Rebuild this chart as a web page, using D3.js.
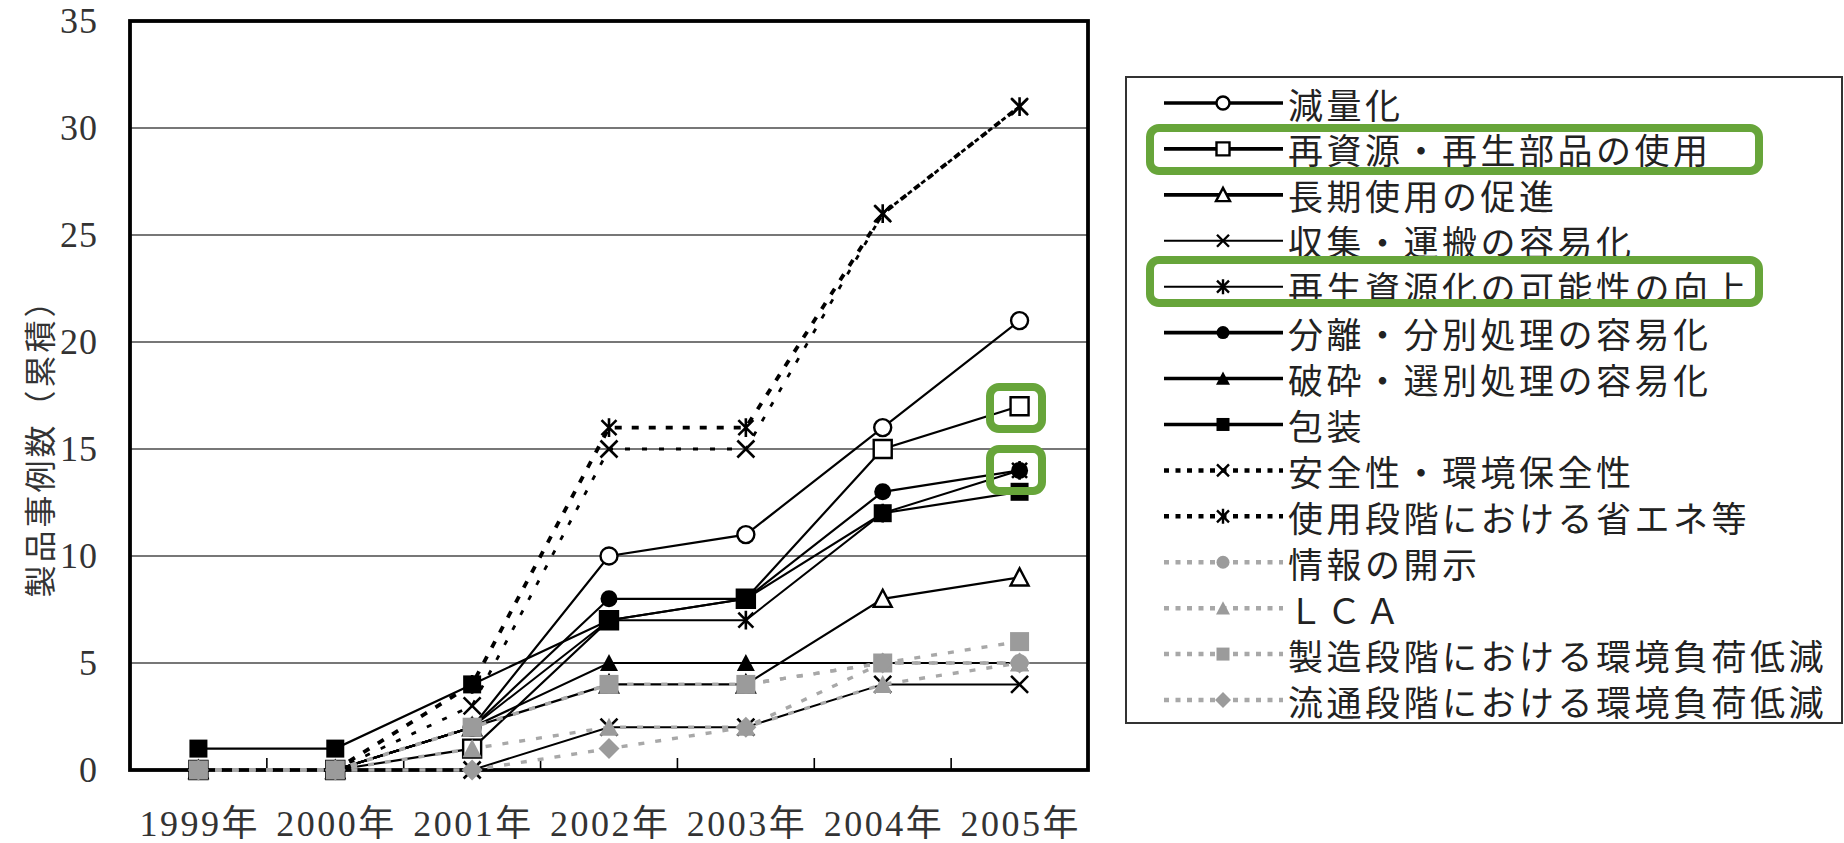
<!DOCTYPE html>
<html>
<head>
<meta charset="utf-8">
<script src="https://cdn.jsdelivr.net/npm/d3@7"></script>
<style>
  html, body { margin: 0; padding: 0; background: #fff; }
  svg { display: block; }
</style>
</head>
<body>
<svg id="chart" width="1844" height="843"></svg>
<script>
// ---- data ----
const years = ['1999年', '2000年', '2001年', '2002年', '2003年', '2004年', '2005年'];
const yTicks = [0, 5, 10, 15, 20, 25, 30, 35];
const yTitle = '製品事例数（累積）';

const seriesNames = [
  '減量化',
  '再資源・再生部品の使用',
  '長期使用の促進',
  '収集・運搬の容易化',
  '再生資源化の可能性の向上',
  '分離・分別処理の容易化',
  '破砕・選別処理の容易化',
  '包装',
  '安全性・環境保全性',
  '使用段階における省エネ等',
  '情報の開示',
  'ＬＣＡ',
  '製造段階における環境負荷低減',
  '流通段階における環境負荷低減'
];

const genryo      = [0, 0, 2, 10, 11, 16, 21];
const saishigen   = [0, 0, 1, 7, 8, 15, 17];
const chokiShiyo  = [0, 0, 2, 4, 4, 8, 9];
const shushu      = [0, 0, 0, 2, 2, 4, 4];
const saiseiKa    = [0, 0, 2, 7, 7, 12, 14];
const bunri       = [0, 0, 2, 8, 8, 13, 14];
const hasai       = [0, 0, 2, 5, 5, 5, 5];
const hoso        = [1, 1, 4, 7, 8, 12, 13];
const anzen       = [0, 0, 3, 15, 15, 26, 31];
const shoene      = [0, 0, 4, 16, 16, 26, 31];
const johoKaiji   = [0, 0, 2, 4, 4, 5, 5];
const lca         = [0, 0, 1, 2, 2, 4, 5];
const seizo       = [0, 0, 2, 4, 4, 5, 6];
const ryutsu      = [0, 0, 0, 1, 2, 5, 5];

const seriesValues = [genryo, saishigen, chokiShiyo, shushu, saiseiKa, bunri, hasai,
                      hoso, anzen, shoene, johoKaiji, lca, seizo, ryutsu];

// ---- appearance of each series (line + marker) ----
const GRAY = '#9b9b9b';
const GRAY_LINE = '#a8a8a8';
const seriesStyle = [
  { kind: 'solid', shape: 'circle',   fill: 'open' },
  { kind: 'solid', shape: 'square',   fill: 'open' },
  { kind: 'solid', shape: 'triangle', fill: 'open' },
  { kind: 'thin',  shape: 'x',        fill: 'line' },
  { kind: 'thin',  shape: 'star',     fill: 'line' },
  { kind: 'solid', shape: 'circle',   fill: 'black' },
  { kind: 'solid', shape: 'triangle', fill: 'black' },
  { kind: 'solid', shape: 'square',   fill: 'black' },
  { kind: 'dotThin', shape: 'x',      fill: 'line' },
  { kind: 'dotBold', shape: 'star',   fill: 'line' },
  { kind: 'gray',  shape: 'circle',   fill: 'gray' },
  { kind: 'gray',  shape: 'triangle', fill: 'gray' },
  { kind: 'gray',  shape: 'square',   fill: 'gray' },
  { kind: 'gray',  shape: 'diamond',  fill: 'gray' }
];

const lineLook = {
  solid:   { chart: { w: 2.2, dash: null,    c: '#000' }, legend: { w: 3.6, dash: null,    c: '#000' } },
  thin:    { chart: { w: 2.0, dash: null,    c: '#000' }, legend: { w: 2.0, dash: null,    c: '#000' } },
  dotThin: { chart: { w: 2.8, dash: '5,12',  c: '#000' }, legend: { w: 4.5, dash: '5,6.5', c: '#000' } },
  dotBold: { chart: { w: 3.8, dash: '7,10',  c: '#000' }, legend: { w: 4.5, dash: '5,6.5', c: '#000' } },
  gray:    { chart: { w: 3.4, dash: '6,11',  c: GRAY_LINE }, legend: { w: 4.5, dash: '5,6.5', c: GRAY_LINE } }
};

// marker outline path centred on 0,0 with overall size s
function markerPath(shape, s) {
  const h = s / 2;
  switch (shape) {
    case 'circle':
      return `M${-h},0A${h},${h} 0 1,0 ${h},0A${h},${h} 0 1,0 ${-h},0Z`;
    case 'square':
      return `M${-h},${-h}H${h}V${h}H${-h}Z`;
    case 'triangle':
      return `M0,${-h}L${h},${h * 0.9}L${-h},${h * 0.9}Z`;
    case 'diamond':
      return `M0,${-h}L${h},0L0,${h}L${-h},0Z`;
    case 'x':
      return `M${-h},${-h}L${h},${h}M${h},${-h}L${-h},${h}`;
    case 'star':
      return `M${-h},${-h}L${h},${h}M${h},${-h}L${-h},${h}M0,${-h * 1.25}V${h * 1.25}`;
  }
}

const chartMarkerSize = { circle: 17, square: 18, triangle: 18, diamond: 21, x: 17, star: 15 };
const grayMarkerSize  = { circle: 18, square: 19, triangle: 19, diamond: 21 };
const legendMarkerSize = { circle: 13, square: 13, triangle: 14, diamond: 16, x: 12, star: 12 };

function styleMarker(sel, st, where) {
  if (st.fill === 'open') {
    sel.attr('fill', '#fff').attr('stroke', '#000').attr('stroke-width', 2.4);
  } else if (st.fill === 'black') {
    sel.attr('fill', '#000').attr('stroke', 'none');
  } else if (st.fill === 'gray') {
    sel.attr('fill', GRAY).attr('stroke', 'none');
  } else {
    sel.attr('fill', 'none').attr('stroke', '#000')
       .attr('stroke-width', where === 'legend' ? 2.4 : 2.6);
  }
}

// ---- layout ----
const svg = d3.select('#chart');
const plot = { left: 130, right: 1088, top: 21, bottom: 770 };

svg.append('rect').attr('width', 1844).attr('height', 843).attr('fill', '#fff');

const x = d3.scaleBand().domain(years).range([plot.left, plot.right]).padding(0);
const y = d3.scaleLinear().domain([0, 35]).range([plot.bottom, plot.top]);
const cx = d => x(d) + x.bandwidth() / 2;

const numFont = '"Liberation Serif", "DejaVu Serif", "Noto Sans CJK JP", serif';
const jpFont = '"Noto Sans CJK JP", "Noto Sans", sans-serif';

// horizontal gridlines
svg.append('g')
  .selectAll('line')
  .data(yTicks.filter(t => t > 0 && t < 35))
  .join('line')
  .attr('x1', plot.left).attr('x2', plot.right)
  .attr('y1', d => y(d)).attr('y2', d => y(d))
  .attr('stroke', '#4a4a4a').attr('stroke-width', 1.6);

// inner category tick marks on the bottom axis
svg.append('g')
  .selectAll('line')
  .data(years.slice(1))
  .join('line')
  .attr('x1', d => x(d)).attr('x2', d => x(d))
  .attr('y1', plot.bottom).attr('y2', plot.bottom - 12)
  .attr('stroke', '#000').attr('stroke-width', 1.6);

// plot frame
svg.append('rect')
  .attr('x', plot.left).attr('y', plot.top)
  .attr('width', plot.right - plot.left).attr('height', plot.bottom - plot.top)
  .attr('fill', 'none').attr('stroke', '#000').attr('stroke-width', 3.8);

// y axis labels
const yAxis = svg.append('g')
  .attr('transform', `translate(${plot.left},0)`)
  .call(d3.axisLeft(y).tickValues(yTicks).tickSize(0).tickPadding(32).tickFormat(d3.format('d')));
yAxis.select('.domain').remove();
yAxis.selectAll('text')
  .attr('font-family', numFont).attr('font-size', 36).attr('letter-spacing', 1).attr('fill', '#333');

// x axis labels
const xAxis = svg.append('g')
  .attr('transform', `translate(0,${plot.bottom})`)
  .call(d3.axisBottom(x).tickSize(0).tickPadding(40));
xAxis.select('.domain').remove();
xAxis.selectAll('text')
  .attr('font-family', numFont).attr('font-size', 36).attr('letter-spacing', 2.5)
  .attr('dx', 1.25).attr('fill', '#333');

// y axis title
svg.append('text')
  .attr('transform', 'translate(38,440) rotate(-90)')
  .attr('text-anchor', 'middle').attr('dominant-baseline', 'central')
  .attr('font-family', jpFont).attr('font-size', 32).attr('letter-spacing', 3)
  .attr('fill', '#333')
  .text(yTitle);

// ---- series ----
const line = d3.line().x((v, i) => cx(years[i])).y(v => y(v));

seriesValues.forEach((vals, si) => {
  const st = seriesStyle[si];
  const lk = lineLook[st.kind].chart;
  const g = svg.append('g').attr('class', 'series');
  g.append('path')
    .attr('d', line(vals))
    .attr('fill', 'none')
    .attr('stroke', lk.c)
    .attr('stroke-width', lk.w)
    .attr('stroke-dasharray', lk.dash);
  const size = st.fill === 'gray' ? grayMarkerSize[st.shape] : chartMarkerSize[st.shape];
  g.selectAll('path.mk')
    .data(vals)
    .join('path')
    .attr('class', 'mk')
    .attr('transform', (v, i) => `translate(${cx(years[i])},${y(v)})`)
    .attr('d', markerPath(st.shape, size))
    .call(sel => styleMarker(sel, st, 'chart'));
});

// ---- legend ----
const legend = { left: 1126, top: 77, right: 1842, bottom: 723 };
svg.append('rect')
  .attr('x', legend.left).attr('y', legend.top)
  .attr('width', legend.right - legend.left).attr('height', legend.bottom - legend.top)
  .attr('fill', '#fff').attr('stroke', '#333').attr('stroke-width', 2);

const rowY = d3.scalePoint().domain(seriesNames).range([103, 700]);
const lg = svg.append('g');
seriesNames.forEach((name, si) => {
  const st = seriesStyle[si];
  const lk = lineLook[st.kind].legend;
  const ry = rowY(name);
  lg.append('line')
    .attr('x1', 1164).attr('x2', 1283).attr('y1', ry).attr('y2', ry)
    .attr('stroke', lk.c).attr('stroke-width', lk.w).attr('stroke-dasharray', lk.dash);
  lg.append('path')
    .attr('transform', `translate(1223,${ry})`)
    .attr('d', markerPath(st.shape, legendMarkerSize[st.shape]))
    .call(sel => styleMarker(sel, st, 'legend'));
  lg.append('text')
    .attr('x', 1288).attr('y', ry)
    .attr('dominant-baseline', 'central')
    .attr('font-family', jpFont).attr('font-size', 35).attr('letter-spacing', 3.5)
    .attr('fill', '#222')
    .text(name);
});

// ---- green emphasis frames ----
const emphasis = [
  { x: 1146, y: 124, w: 617, h: 51 },
  { x: 1146, y: 256, w: 617, h: 51 },
  { x: 986,  y: 383, w: 60,  h: 50 },
  { x: 986,  y: 445, w: 60,  h: 50 }
];
svg.append('g')
  .selectAll('rect')
  .data(emphasis)
  .join('rect')
  .attr('x', d => d.x + 4).attr('y', d => d.y + 4)
  .attr('width', d => d.w - 8).attr('height', d => d.h - 8)
  .attr('rx', 9).attr('ry', 9)
  .attr('fill', 'none').attr('stroke', '#67a53a').attr('stroke-width', 8);
</script>
</body>
</html>
